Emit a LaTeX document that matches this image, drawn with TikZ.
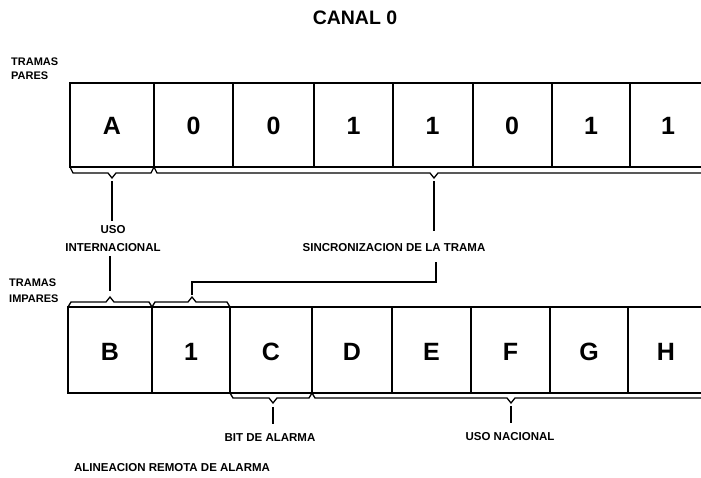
\documentclass[tikz,border=0pt]{standalone}
\usepackage{fontspec}
\setmainfont{Liberation Sans}
\begin{document}
\begin{tikzpicture}[x=1pt,y=-1pt,
  boxline/.style={line width=1.8pt},
  braceline/.style={line width=1.3pt, line join=miter},
  cell/.style={font=\fontsize{25}{28}\selectfont\bfseries, inner sep=0pt},
  small/.style={font=\fontsize{11.5}{13}\selectfont\bfseries, inner sep=0pt},
  side/.style={font=\fontsize{11}{12}\selectfont\bfseries, inner sep=0pt, anchor=west, align=left}]
\useasboundingbox (0,0) rectangle (701,477);
% title
\node[font=\fontsize{19.5}{22}\selectfont\bfseries, inner sep=0pt] (title) at (355,18) {CANAL 0};
% side labels
\node[side] (tp1) at (11,62) {TRAMAS};
\node[side] (tp2) at (11,76) {PARES};
\node[side] (ti1) at (9,283) {TRAMAS};
\node[side] (ti2) at (9,299) {IMPARES};
% top row
\draw[boxline] (701,83) -- (70,83) -- (70,167) -- (701,167);
\foreach \x in {154,233,314,393,473,552,630} \draw[boxline] (\x,83) -- (\x,167);
\node[cell] (a) at (112,126) {A};
\node[cell] (t1) at (193.5,126) {0};
\node[cell] (t2) at (273.5,126) {0};
\node[cell] (t3) at (353.5,126) {1};
\node[cell] (t4) at (432.5,126) {1};
\node[cell] (t5) at (512,126) {0};
\node[cell] (t6) at (591,126) {1};
\node[cell] (t7) at (668,126) {1};
% bottom row
\draw[boxline] (701,307) -- (68,307) -- (68,393) -- (701,393);
\foreach \x in {152,230,312,392,471,550,628} \draw[boxline] (\x,307) -- (\x,393);
\node[cell] (b) at (110,352) {B};
\node[cell] (b1) at (191,352) {1};
\node[cell] (c) at (271,352) {C};
\node[cell] (d) at (352,352) {D};
\node[cell] (e) at (431.5,352) {E};
\node[cell] (f) at (510.5,352) {F};
\node[cell] (g) at (589,352) {G};
\node[cell] (h) at (666,352) {H};
% labels
\node[small] (uso) at (113,230) {USO};
\node[small] (inter) at (113,248) {INTERNACIONAL};
\node[small] (sinc) at (394,248) {SINCRONIZACION DE LA TRAMA};
\node[small] (bit) at (270,438) {BIT DE ALARMA};
\node[small] (nac) at (510,437) {USO NACIONAL};
\node[small] (alin) at (172,468) {ALINEACION REMOTA DE ALARMA};
% braces under top row
\draw[braceline] (70,167) -- (73,173) -- (108,173) -- (112,178) -- (116,173) -- (151,173) -- (154,167);
\coordinate (tipA) at (112,181);
\draw[braceline] (154,167) -- (157,173) -- (430,173) -- (434,178) -- (438,173) -- (701,173);
\coordinate (tipS) at (434,181);
\draw[braceline, shorten >=5pt] (tipA) -- (tipA |- uso.north);
\draw[braceline] (tipS) -- (434,231);
% braces over bottom row
\draw[braceline] (68,307) -- (71,302) -- (106,302) -- (110,297) -- (114,302) -- (149,302) -- (152,307);
\draw[braceline] (152,307) -- (155,302) -- (188,302) -- (192,297) -- (196,302) -- (227,302) -- (230,307);
\coordinate (tipB) at (110,291);
\coordinate (tip1) at (192,295);
\draw[braceline] (inter.south -| tipB) ++(0,4) -- (tipB);
\draw[braceline] (tip1) -- (192,282) -- (436,282) -- (436,262);
% braces under bottom row
\draw[braceline] (230,393) -- (233,398) -- (269,398) -- (273,403) -- (277,398) -- (309,398) -- (312,393);
\draw[braceline] (312,393) -- (315,398) -- (507,398) -- (511,403) -- (515,398) -- (701,398);
\coordinate (tipC) at (273,407);
\coordinate (tipN) at (511,406);
\draw[braceline] (tipC) -- (273,424);
\draw[braceline] (tipN) -- (511,423);
\end{tikzpicture}
\end{document}
